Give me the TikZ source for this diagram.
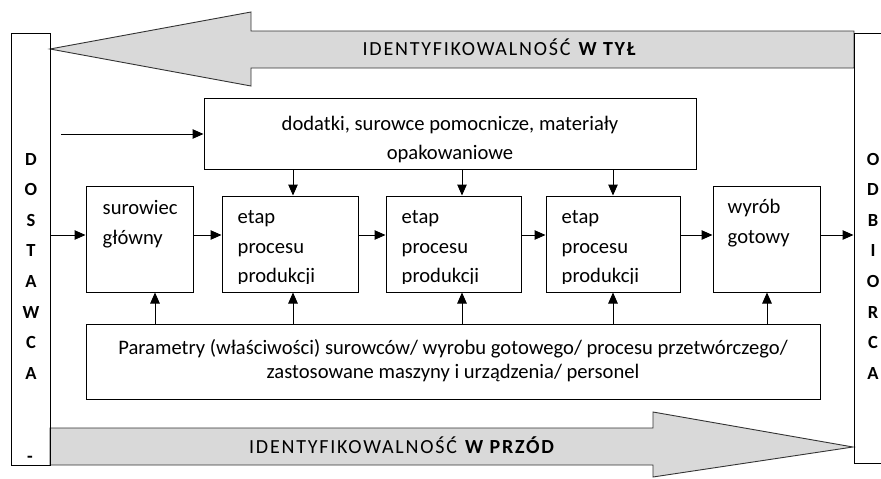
\documentclass[tikz,border=0pt]{standalone}
\usepackage{fontspec}
\setmainfont{Carlito}
\newfontfamily\spacedfont[LetterSpace=9]{Carlito}
\usetikzlibrary{arrows.meta}
\begin{document}
\begin{tikzpicture}[x=1pt,y=-1pt,
  box/.style={draw, line width=1pt, inner sep=0pt},
  arr/.style={line width=1pt, -{Triangle[length=11pt,width=9.5pt]}},
  txt/.style={font=\fontsize{20.6}{29.5}\selectfont, inner sep=0pt},
  arrtxt/.style={font=\fontsize{20}{24}\spacedfont, inner sep=0pt, anchor=base},
  barletter/.style={font=\fontsize{18.5}{22}\selectfont\bfseries, inner sep=0pt, anchor=base},
  bigarrow/.style={draw=black!80, line width=0.9pt, fill=gray!30}
]
\useasboundingbox (0,0) rectangle (881,479);
\clip (0,0) rectangle (881,479);

% big grey arrows
\draw[bigarrow] (50,49) -- (251,12) -- (251,31) -- (854,31) -- (854,68) -- (251,68) -- (251,86) -- cycle;
\draw[bigarrow] (50,428) -- (653,428) -- (653,412) -- (853,447) -- (653,477) -- (653,465) -- (50,465) -- cycle;
\node[arrtxt] (back) at (500,55.5) {IDENTYFIKOWALNOŚĆ \textbf{W TYŁ}};
\node[arrtxt] (fwd) at (402.5,453.5) {IDENTYFIKOWALNOŚĆ \textbf{W PRZÓD}};

% side bars
\node[box, minimum width=39pt, minimum height=432pt] (dost) at (30.5,249) {};
\node[box, minimum width=36pt, minimum height=430pt] (odb) at (872,248) {};
\foreach \c [count=\i from 0] in {D,O,S,T,A,W,C,A}
  \node[barletter] (dl\i) at (31,{165+30.6*\i}) {\c};
\node[barletter] (dlend) at (30,462.5) {-};
\foreach \c [count=\i from 0] in {O,D,B,I,O,R,C,A}
  \node[barletter] (ol\i) at (873,{165+30.6*\i}) {\c};

% boxes
\node[box, minimum width=492pt, minimum height=71pt] (dod) at (450,133.5) {};
\node[txt, anchor=base] (dodt1) at (450,130) {dodatki, surowce pomocnicze, materiały};
\node[txt, anchor=base] (dodt2) at (450,159) {opakowaniowe};

\node[box, minimum width=107pt, minimum height=106pt] (sur) at (139.5,239) {};
\node[box, minimum width=136pt, minimum height=96pt] (e1) at (290,244) {};
\node[box, minimum width=135pt, minimum height=96pt] (e2) at (453.5,244) {};
\node[box, minimum width=134pt, minimum height=96pt] (e3) at (613,244) {};
\node[box, minimum width=107pt, minimum height=106pt] (wyr) at (766.5,239) {};

\node[box, minimum width=734pt, minimum height=75pt] (par) at (453,361.5) {};
\node[txt, anchor=base] (part1) at (453,354) {Parametry (właściwości) surowców/ wyrobu gotowego/ procesu przetwórczego/};
\node[txt, anchor=base] (part2) at (453,378) {zastosowane maszyny i urządzenia/ personel};

% texts in row boxes
\node[txt, anchor=base west] (st1) at ([xshift=17pt,yshift=-29pt]sur.north west) {surowiec};
\node[txt, anchor=base west] (st2) at ([xshift=17pt,yshift=-58.5pt]sur.north west) {główny};
\node[txt, anchor=base west] (wt1) at ([xshift=15pt,yshift=-28pt]wyr.north west) {wyrób};
\node[txt, anchor=base west] (wt2) at ([xshift=15pt,yshift=-57.5pt]wyr.north west) {gotowy};
\foreach \b in {e1,e2,e3}{
  \begin{scope}
    \clip (\b.north west) rectangle ([yshift=9pt]\b.south east);
    \node[txt, anchor=base west] (\b t1) at ([xshift=16pt,yshift=-28pt]\b.north west) {etap};
    \node[txt, anchor=base west] (\b t2) at ([xshift=16pt,yshift=-57.5pt]\b.north west) {procesu};
    \node[txt, anchor=base west] (\b t3) at ([xshift=16pt,yshift=-87pt]\b.north west) {produkcji};
  \end{scope}
}

% connectors
\coordinate (row) at (0,235);
\draw[arr] (dost.east |- row) -- (sur.west |- row);
\draw[arr] (sur.east |- row) -- (e1.west |- row);
\draw[arr] (e1.east |- row) -- (e2.west |- row);
\draw[arr] (e2.east |- row) -- (e3.west |- row);
\draw[arr] (e3.east |- row) -- (wyr.west |- row);
\draw[arr] (wyr.east |- row) -- (odb.west |- row);

\coordinate (in) at (61,134);
\draw[arr] (in) -- (dod.west |- in);

\coordinate (d1) at ([xshift=3pt]e1.north);
\coordinate (d2) at ([xshift=8.5pt]e2.north);
\coordinate (d3) at (e3.north);
\foreach \d in {d1,d2,d3}
  \draw[arr] (dod.south -| \d) -- (\d);

\coordinate (u0) at ([xshift=15.5pt]sur.south);
\coordinate (u1) at ([xshift=3pt]e1.south);
\coordinate (u2) at ([xshift=8.5pt]e2.south);
\coordinate (u3) at (e3.south);
\coordinate (u4) at ([xshift=0.5pt]wyr.south);
\foreach \u in {u0,u1,u2,u3,u4}
  \draw[arr] (par.north -| \u) -- (\u);
\end{tikzpicture}
\end{document}
